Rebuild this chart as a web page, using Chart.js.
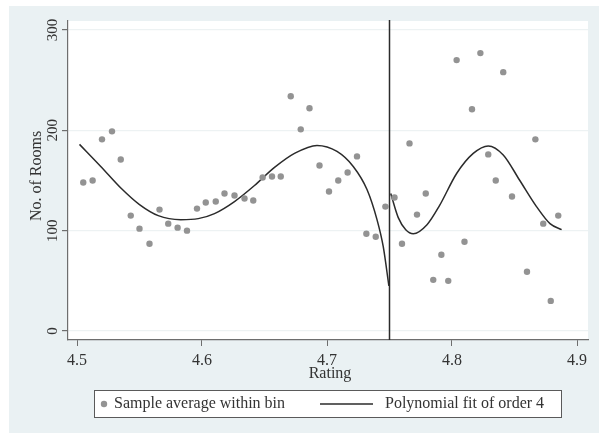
<!DOCTYPE html>
<html lang="en">
  <head>
    <meta charset="UTF-8" />
    <title>No. of Rooms by Rating</title>
    <script src="https://cdn.jsdelivr.net/npm/chart.js"></script>
    <style>
      body {
        margin: 0;
        padding: 0;
        background: #fff;
      }
      .chart-wrap {
        width: 599px;
        height: 434px;
        position: relative;
      }
    </style>
  </head>
  <body>
    <div class="chart-wrap"><canvas id="rdChart"></canvas></div>

    <script>
      // bin averages (rating, rooms)
      const binRating = [
        4.505, 4.5125, 4.52, 4.528, 4.535, 4.543, 4.55, 4.558, 4.566, 4.573,
        4.5805, 4.588, 4.596, 4.603, 4.611, 4.618, 4.626, 4.634, 4.641, 4.6485,
        4.656, 4.663, 4.671, 4.679, 4.686, 4.694, 4.7016, 4.709, 4.7165, 4.724,
        4.7315, 4.739, 4.7467,
        4.754, 4.76, 4.766, 4.772, 4.779, 4.785, 4.7915, 4.797, 4.8037, 4.81,
        4.816, 4.8227, 4.829, 4.835, 4.841, 4.848, 4.86, 4.8667, 4.873, 4.879,
        4.885,
      ];
      const binRooms = [
        148, 150, 191, 199, 171, 115, 102, 87, 121, 107,
        103, 100, 122, 128, 129, 137, 135, 132, 130, 153,
        154, 154, 234, 201, 222, 165, 139, 150, 158, 174,
        97, 94, 124,
        133, 87, 187, 116, 137, 51, 76, 50, 270, 89,
        221, 277, 176, 150, 258, 134, 59, 191, 107, 30,
        115,
      ];

      // quartic fit, below the cutoff
      const fitLeftX = [
        4.502, 4.519, 4.5355, 4.55, 4.565, 4.583, 4.597, 4.61, 4.626, 4.642,
        4.658, 4.674, 4.692, 4.708, 4.721, 4.732, 4.74, 4.745, 4.7495,
      ];
      const fitLeftY = [
        186, 164, 142, 126, 115, 111, 112, 117, 129, 145,
        163, 177, 185, 179, 164, 141, 111, 84, 45,
      ];
      // quartic fit, above the cutoff
      const fitRightX = [
        4.751, 4.757, 4.763, 4.769, 4.78, 4.79, 4.8037, 4.817, 4.829, 4.841,
        4.854, 4.8676, 4.8784, 4.8877,
      ];
      const fitRightY = [
        137, 113, 101, 97, 106, 125, 157, 177, 184.5, 175.5,
        150.5, 124, 107, 101,
      ];

      const cutoff = 4.75;
      const xTicks = [4.5, 4.6, 4.7, 4.8, 4.9];
      const yTicks = [0, 100, 200, 300];

      const serif = '"Liberation Serif", "DejaVu Serif", serif';
      const axisGray = "#6e6e6e";
      const textColor = "#333";

      const pairs = (xs, ys) => xs.map((x, i) => ({ x: x, y: ys[i] }));

      // outer panel + white plot region
      const panelBg = {
        id: "panelBg",
        beforeDraw(chart) {
          const { ctx, chartArea: a } = chart;
          ctx.save();
          ctx.fillStyle = "#eaf1f3";
          ctx.fillRect(9, 6, chart.width - 9, 427);
          ctx.fillStyle = "#fff";
          ctx.fillRect(a.left, a.top, a.right - a.left, a.bottom - a.top);
          ctx.restore();
        },
      };

      // vertical line at the rating cutoff
      const cutoffLine = {
        id: "cutoffLine",
        afterDatasetsDraw(chart) {
          const { ctx, chartArea: a } = chart;
          const px = chart.scales.x.getPixelForValue(cutoff);
          ctx.save();
          ctx.strokeStyle = "#2b2b2b";
          ctx.lineWidth = 1.5;
          ctx.beginPath();
          ctx.moveTo(px, a.top - 1);
          ctx.lineTo(px, a.bottom);
          ctx.stroke();
          ctx.restore();
        },
      };

      // tick labels, axis titles and the boxed legend
      const labelsAndLegend = {
        id: "labelsAndLegend",
        afterDraw(chart) {
          const { ctx, chartArea: a } = chart;
          const xs = chart.scales.x;
          const ys = chart.scales.y;
          ctx.save();
          ctx.fillStyle = textColor;
          ctx.textAlign = "center";
          ctx.textBaseline = "middle";

          ctx.font = "16px " + serif;
          xTicks.forEach((v) => {
            ctx.fillText(v.toFixed(1), xs.getPixelForValue(v), 361);
          });
          ctx.fillText("Rating", (a.left + a.right) / 2 + 2, 374);

          yTicks.forEach((v) => {
            ctx.save();
            ctx.translate(53, ys.getPixelForValue(v));
            ctx.rotate(-Math.PI / 2);
            ctx.font = "15px " + serif;
            ctx.fillText(String(v), 0, 0);
            ctx.restore();
          });
          ctx.save();
          ctx.translate(37, 176);
          ctx.rotate(-Math.PI / 2);
          ctx.font = "16px " + serif;
          ctx.fillText("No. of Rooms", 0, 0);
          ctx.restore();

          // legend box
          const ds = chart.data.datasets;
          ctx.fillStyle = "#fff";
          ctx.fillRect(94, 390, 467, 27);
          ctx.strokeStyle = "#5a5a5a";
          ctx.lineWidth = 1;
          ctx.strokeRect(94.5, 390.5, 467, 27);

          ctx.fillStyle = "#939393";
          ctx.beginPath();
          ctx.arc(104, 404, 3.2, 0, Math.PI * 2);
          ctx.fill();

          ctx.strokeStyle = "#2b2b2b";
          ctx.lineWidth = 1.5;
          ctx.beginPath();
          ctx.moveTo(320, 404);
          ctx.lineTo(373, 404);
          ctx.stroke();

          ctx.fillStyle = textColor;
          ctx.textAlign = "left";
          ctx.font = "16px " + serif;
          ctx.fillText(ds[0].label, 114, 404);
          ctx.fillText(ds[1].label, 385, 404);
          ctx.restore();
        },
      };

      const fitStyle = {
        type: "line",
        borderColor: "#2b2b2b",
        borderWidth: 1.5,
        pointRadius: 0,
        cubicInterpolationMode: "monotone",
        fill: false,
      };

      new Chart(document.getElementById("rdChart"), {
        data: {
          datasets: [
            {
              type: "scatter",
              label: "Sample average within bin",
              data: pairs(binRating, binRooms),
              backgroundColor: "#939393",
              borderWidth: 0,
              pointRadius: 3.2,
            },
            {
              ...fitStyle,
              label: "Polynomial fit of order 4",
              data: pairs(fitLeftX, fitLeftY),
            },
            {
              ...fitStyle,
              label: "Polynomial fit of order 4 (right)",
              data: pairs(fitRightX, fitRightY),
            },
          ],
        },
        options: {
          responsive: true,
          maintainAspectRatio: false,
          animation: false,
          layout: { padding: { top: 21, right: 11, bottom: 0, left: 0 } },
          plugins: {
            legend: { display: false },
            tooltip: { enabled: false },
          },
          scales: {
            x: {
              type: "linear",
              min: 4.4928,
              max: 4.9088,
              afterBuildTicks: (s) => {
                s.ticks = xTicks.map((v) => ({ value: v }));
              },
              afterFit: (s) => {
                s.height = 94;
              },
              ticks: { display: false },
              grid: {
                drawOnChartArea: false,
                drawTicks: true,
                tickLength: 6,
                tickColor: axisGray,
              },
              border: { color: axisGray, width: 1.2 },
            },
            y: {
              type: "linear",
              min: -8.97,
              max: 308.97,
              afterBuildTicks: (s) => {
                s.ticks = yTicks.map((v) => ({ value: v }));
              },
              afterFit: (s) => {
                s.width = 68;
              },
              ticks: { display: false },
              grid: {
                color: "#edf2f3",
                lineWidth: 1.2,
                drawTicks: true,
                tickLength: 6,
                tickColor: axisGray,
              },
              border: { color: axisGray, width: 1.2 },
            },
          },
        },
        plugins: [panelBg, cutoffLine, labelsAndLegend],
      });
    </script>
  </body>
</html>
